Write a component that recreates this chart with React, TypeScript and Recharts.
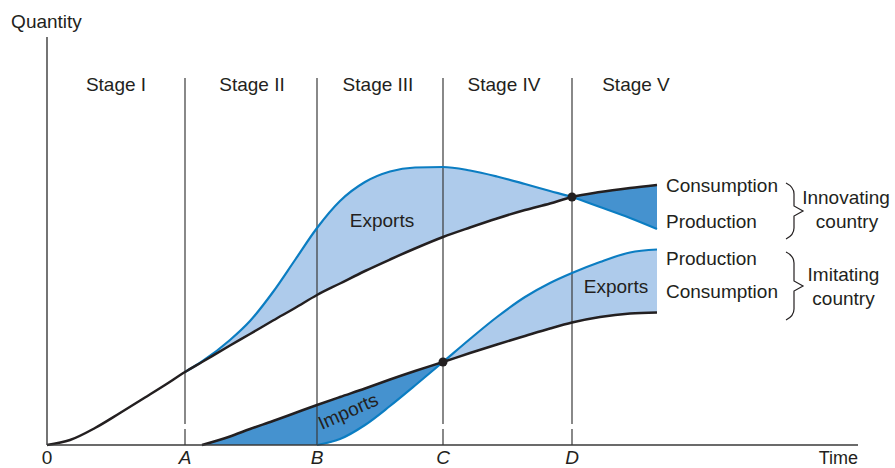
import React from 'react';
import {
  ComposedChart,
  Line,
  Area,
  XAxis,
  YAxis,
  ReferenceLine,
  ReferenceDot,
  Label,
} from 'recharts';

// ---------- data (time units along the horizontal axis, quantity units vertical) ----------
const times = [0, 2.3, 4.8, 7.3, 9.8, 11.8, 13.8, 15.5, 18.3, 20.3, 22.6, 24.8, 27.0, 29.3, 31.8, 34.3, 36.8, 39.6, 42.3, 45.0, 47.8, 50.3, 52.5, 55.3, 58.3, 61.0];

const innovatingConsumption = [0, 0.5, 1.7, 3.2, 4.75, 6.0, 7.3, 8.3, 9.95, 11.1, 12.45, 13.7, 15.0, 16.15, 17.4, 18.55, 19.65, 20.8, 21.75, 22.65, 23.5, 24.15, 24.8, 25.3, 25.7, 26.0];
const innovatingProduction = [null, null, null, null, null, null, 7.3, 8.35, 10.5, 12.4, 15.3, 18.5, 21.7, 24.4, 26.3, 27.35, 27.75, 27.8, 27.45, 26.85, 26.1, 25.4, 24.8, 23.8, 22.7, 21.6];
const imitatingConsumption = [null, null, null, null, null, null, null, 0, 0.85, 1.6, 2.4, 3.2, 4.0, 4.8, 5.65, 6.55, 7.4, 8.3, 9.2, 10.05, 10.9, 11.65, 12.25, 12.8, 13.15, 13.25];
const imitatingProduction = [null, null, null, null, null, null, null, null, null, null, null, null, 0, 0.6, 2.0, 3.9, 5.95, 8.3, 10.6, 12.8, 14.8, 16.2, 17.2, 18.3, 19.25, 19.55];

const boundaryTimes = [13.8, 27.0, 39.6, 52.5];
const boundaryLabels = ['A', 'B', 'C', 'D'];
const stageNames = ['Stage I', 'Stage II', 'Stage III', 'Stage IV', 'Stage V'];
const stageCenters = [6.9, 20.5, 33.1, 45.7, 58.9];
const timeMax = 81.1;
const quantityMax = 40.8;

// ---------- styles ----------
const INK = '#231f20';
const BLUE = '#0b7dc2';
const LIGHT = '#aecbeb';
const DARK = '#4592cf';
const AXIS = '#3a3a3a';
const FONT = 19;

const A = boundaryTimes[0];
const C = boundaryTimes[2];
const D = boundaryTimes[3];

const rows = times.map((t, i) => {
  const ic = innovatingConsumption[i];
  const ip = innovatingProduction[i];
  const mc = imitatingConsumption[i];
  const mp = imitatingProduction[i];
  return {
    t,
    ic,
    ip,
    mc,
    mp,
    innExports: ip != null && t >= A && t <= D ? [ic, ip] : null,
    innImports: ip != null && t >= D ? [ip, ic] : null,
    imImports: mc != null && t <= C ? [mp ?? 0, mc] : null,
    imExports: mp != null && t >= C ? [mc, mp] : null,
  };
});

const tickValues = [0, ...boundaryTimes, timeMax];
const tickText = (v: number) => {
  if (v === 0) return '0';
  if (v === timeMax) return 'Time';
  const idx = boundaryTimes.indexOf(v);
  return idx >= 0 ? boundaryLabels[idx] : '';
};

const AxisTick = (props: any) => {
  const { x, y, payload } = props;
  const v = payload.value;
  const label = tickText(v);
  const isLetter = v !== 0 && v !== timeMax;
  const anchor = v === timeMax ? 'end' : 'middle';
  return (
    <text
      x={x}
      y={y + 19}
      textAnchor={anchor}
      fill={INK}
      fontSize={v === timeMax ? 18 : FONT}
      fontStyle={isLetter ? 'italic' : 'normal'}
    >
      {label}
    </text>
  );
};

const textShape = (text: string, anchor: 'start' | 'middle' | 'end' = 'middle', angle = 0) => (p: any) => (
  <text
    x={p.cx}
    y={p.cy}
    dy="0.355em"
    textAnchor={anchor}
    fill={INK}
    fontSize={FONT}
    transform={angle ? `rotate(${angle}, ${p.cx}, ${p.cy})` : undefined}
  >
    {text}
  </text>
);

const braceShape = (half: number) => (p: any) => {
  const { cx, cy } = p;
  const d = `M ${cx - 17} ${cy - half} Q ${cx - 9} ${cy - half + 4} ${cx - 9} ${cy - half + 11} L ${cx - 9} ${cy - 5} L ${cx} ${cy} L ${cx - 9} ${cy + 5} L ${cx - 9} ${cy + half - 11} Q ${cx - 9} ${cy + half - 4} ${cx - 17} ${cy + half}`;
  return <path d={d} fill="none" stroke={INK} strokeWidth={1.2} />;
};

const lineTop = 36.7;
const gapTop = 2.1;
const gapBottom = 1.6;

export default function App() {
  return (
    <div
      style={{
        position: 'absolute',
        left: 0,
        top: 0,
        width: 895,
        height: 468,
        background: '#fff',
        fontFamily: '"Liberation Sans", Arial, Helvetica, sans-serif',
      }}
    >
      <ComposedChart
        width={895}
        height={468}
        data={rows}
        margin={{ top: 37, right: 37, bottom: 0, left: 46 }}
      >
        <XAxis
          type="number"
          dataKey="t"
          domain={[0, timeMax]}
          ticks={tickValues}
          interval={0}
          tick={<AxisTick />}
          tickLine={false}
          tickSize={0}
          tickMargin={0}
          height={23}
          axisLine={{ stroke: AXIS, strokeWidth: 1.4 }}
        />
        <YAxis
          type="number"
          domain={[0, quantityMax]}
          width={1}
          tick={false}
          tickLine={false}
          axisLine={{ stroke: AXIS, strokeWidth: 1.4 }}
        >
          <Label value="Quantity" position="top" offset={9} fill={INK} fontSize={FONT} />
        </YAxis>

        <Area dataKey="innExports" type="monotone" fill={LIGHT} fillOpacity={1} stroke="none" isAnimationActive={false} />
        <Area dataKey="innImports" type="monotone" fill={DARK} fillOpacity={1} stroke="none" isAnimationActive={false} />
        <Area dataKey="imImports" type="monotone" fill={DARK} fillOpacity={1} stroke="none" isAnimationActive={false} />
        <Area dataKey="imExports" type="monotone" fill={LIGHT} fillOpacity={1} stroke="none" isAnimationActive={false} />

        {boundaryTimes.map((bt, i) =>
          i === 1 ? (
            <ReferenceLine key={`b${i}`} segment={[{ x: bt, y: lineTop }, { x: bt, y: 0 }]} stroke={AXIS} strokeWidth={1.2} />
          ) : (
            <React.Fragment key={`b${i}`}>
              <ReferenceLine segment={[{ x: bt, y: lineTop }, { x: bt, y: gapTop }]} stroke={AXIS} strokeWidth={1.2} />
              <ReferenceLine segment={[{ x: bt, y: gapBottom }, { x: bt, y: 0 }]} stroke={AXIS} strokeWidth={1.2} />
            </React.Fragment>
          )
        )}

        <Line dataKey="ip" type="monotone" stroke={BLUE} strokeWidth={2.2} dot={false} isAnimationActive={false} />
        <Line dataKey="mp" type="monotone" stroke={BLUE} strokeWidth={2.2} dot={false} isAnimationActive={false} />
        <Line dataKey="ic" type="monotone" stroke={INK} strokeWidth={2.5} dot={false} isAnimationActive={false} />
        <Line dataKey="mc" type="monotone" stroke={INK} strokeWidth={2.5} dot={false} isAnimationActive={false} />

        <ReferenceDot x={D} y={innovatingConsumption[times.indexOf(D)] as number} r={4.5} fill={INK} stroke="none" />
        <ReferenceDot x={C} y={imitatingConsumption[times.indexOf(C)] as number} r={4.5} fill={INK} stroke="none" />

        {stageNames.map((s, i) => (
          <ReferenceDot key={s} x={stageCenters[i]} y={36.05} r={0} shape={textShape(s)} />
        ))}

        <ReferenceDot x={33.5} y={22.5} r={0} shape={textShape('Exports')} />
        <ReferenceDot x={56.9} y={15.85} r={0} shape={textShape('Exports')} />
        <ReferenceDot x={30.1} y={3.4} r={0} shape={textShape('Imports', 'middle', -24)} />

        <ReferenceDot x={61.9} y={26.0} r={0} shape={textShape('Consumption', 'start')} />
        <ReferenceDot x={61.9} y={22.35} r={0} shape={textShape('Production', 'start')} />
        <ReferenceDot x={61.9} y={18.65} r={0} shape={textShape('Production', 'start')} />
        <ReferenceDot x={61.9} y={15.35} r={0} shape={textShape('Consumption', 'start')} />

        <ReferenceDot x={75.6} y={23.4} r={0} shape={braceShape(28)} />
        <ReferenceDot x={75.6} y={15.9} r={0} shape={braceShape(34)} />

        <ReferenceDot x={79.9} y={24.75} r={0} shape={textShape('Innovating')} />
        <ReferenceDot x={80.0} y={22.4} r={0} shape={textShape('country')} />
        <ReferenceDot x={79.65} y={17.1} r={0} shape={textShape('Imitating')} />
        <ReferenceDot x={79.65} y={14.7} r={0} shape={textShape('country')} />
      </ComposedChart>
    </div>
  );
}
